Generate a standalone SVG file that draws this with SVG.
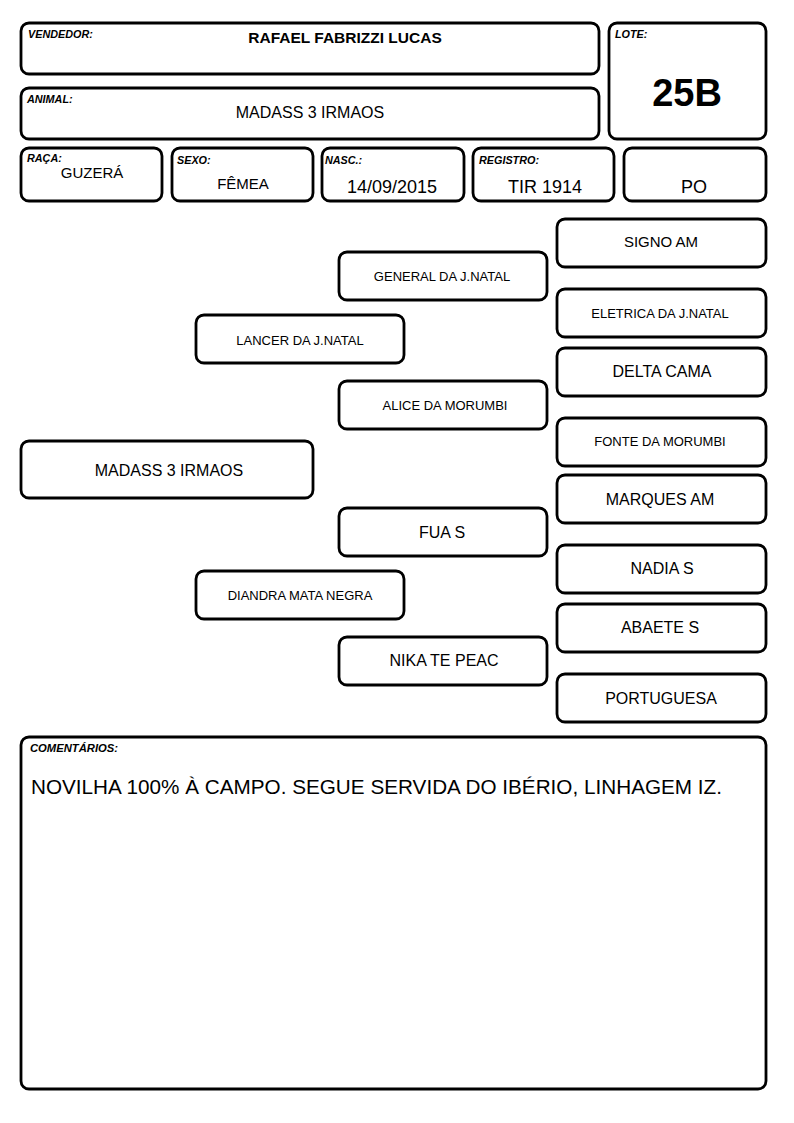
<svg xmlns="http://www.w3.org/2000/svg" width="794" height="1123" viewBox="0 0 794 1123">
<style>
.b{fill:#fff;stroke:#000;stroke-width:2.8}
.lbl{font-family:"Liberation Sans",Arial,sans-serif;font-size:10.8px;font-weight:bold;font-style:italic;fill:#000}
.t{font-family:"Liberation Sans",Arial,sans-serif;fill:#000;text-anchor:middle}
</style>
<rect width="794" height="1123" fill="#fff"/>
<g id="vendedor"><rect class="b" x="21" y="23" width="578" height="51" rx="8"/><text class="lbl" x="28" y="38">VENDEDOR:</text><text class="t" x="345" y="43" font-size="15.5" font-weight="bold">RAFAEL FABRIZZI LUCAS</text></g>
<g id="animal"><rect class="b" x="21" y="88" width="578" height="51" rx="8"/><text class="lbl" x="27" y="103">ANIMAL:</text><text class="t" x="310" y="118" font-size="16">MADASS 3 IRMAOS</text></g>
<g id="lote"><rect class="b" x="609" y="23" width="157" height="116" rx="8"/><text class="lbl" x="615" y="38">LOTE:</text><text class="t" x="687" y="106" font-size="38" font-weight="bold">25B</text></g>
<g id="raca"><rect class="b" x="21" y="148" width="141" height="53" rx="8"/><text class="lbl" x="27" y="162">RAÇA:</text><text class="t" x="92" y="178" font-size="15">GUZERÁ</text></g>
<g id="sexo"><rect class="b" x="172" y="148" width="141" height="53" rx="8"/><text class="lbl" x="177" y="164">SEXO:</text><text class="t" x="243" y="189" font-size="15">FÊMEA</text></g>
<g id="nasc"><rect class="b" x="322" y="148" width="142" height="53" rx="8"/><text class="lbl" x="325" y="164">NASC.:</text><text class="t" x="392" y="193" font-size="18">14/09/2015</text></g>
<g id="registro"><rect class="b" x="473" y="148" width="141" height="53" rx="8"/><text class="lbl" x="479" y="164">REGISTRO:</text><text class="t" x="545" y="193" font-size="18">TIR 1914</text></g>
<g id="po"><rect class="b" x="624" y="148" width="142" height="53" rx="8"/><text class="t" x="694" y="193" font-size="18">PO</text></g>
<g id="connectors"></g>
<g id="signo"><rect class="b" x="557" y="219" width="209" height="48" rx="8"/><text class="t" x="661" y="247" font-size="15">SIGNO AM</text></g>
<g id="general"><rect class="b" x="339" y="252" width="208" height="48" rx="8"/><text class="t" x="442" y="281" font-size="13">GENERAL DA J.NATAL</text></g>
<g id="eletrica"><rect class="b" x="557" y="289" width="209" height="48" rx="8"/><text class="t" x="660" y="318" font-size="13">ELETRICA DA J.NATAL</text></g>
<g id="lancer"><rect class="b" x="196" y="315" width="208" height="48" rx="8"/><text class="t" x="300" y="345" font-size="13">LANCER DA J.NATAL</text></g>
<g id="delta"><rect class="b" x="557" y="348" width="209" height="48" rx="8"/><text class="t" x="662" y="377" font-size="16">DELTA CAMA</text></g>
<g id="alice"><rect class="b" x="339" y="381" width="208" height="48" rx="8"/><text class="t" x="445" y="410" font-size="13">ALICE DA MORUMBI</text></g>
<g id="fonte"><rect class="b" x="557" y="418" width="209" height="48" rx="8"/><text class="t" x="660" y="446" font-size="13">FONTE DA MORUMBI</text></g>
<g id="madass"><rect class="b" x="21" y="441" width="292" height="57" rx="8"/><text class="t" x="169" y="476" font-size="16">MADASS 3 IRMAOS</text></g>
<g id="marques"><rect class="b" x="557" y="475" width="209" height="48" rx="8"/><text class="t" x="660" y="505" font-size="16">MARQUES AM</text></g>
<g id="fua"><rect class="b" x="339" y="508" width="208" height="48" rx="8"/><text class="t" x="442" y="538" font-size="16">FUA S</text></g>
<g id="nadia"><rect class="b" x="557" y="545" width="209" height="48" rx="8"/><text class="t" x="662" y="574" font-size="16">NADIA S</text></g>
<g id="diandra"><rect class="b" x="196" y="571" width="208" height="48" rx="8"/><text class="t" x="300" y="600" font-size="13">DIANDRA MATA NEGRA</text></g>
<g id="abaete"><rect class="b" x="557" y="604" width="209" height="48" rx="8"/><text class="t" x="660" y="633" font-size="16">ABAETE S</text></g>
<g id="nika"><rect class="b" x="339" y="637" width="208" height="48" rx="8"/><text class="t" x="444" y="666" font-size="16">NIKA TE PEAC</text></g>
<g id="portuguesa"><rect class="b" x="557" y="674" width="209" height="48" rx="8"/><text class="t" x="661" y="704" font-size="16">PORTUGUESA</text></g>
<g id="comentarios"><rect class="b" x="21" y="737" width="745" height="352" rx="8"/><text class="lbl" x="30" y="752" textLength="88" lengthAdjust="spacingAndGlyphs">COMENTÁRIOS:</text><text x="31" y="794" font-family="Liberation Sans,Arial,sans-serif" font-size="21" textLength="691" lengthAdjust="spacingAndGlyphs">NOVILHA 100% À CAMPO. SEGUE SERVIDA DO IBÉRIO, LINHAGEM IZ.</text></g>
</svg>
